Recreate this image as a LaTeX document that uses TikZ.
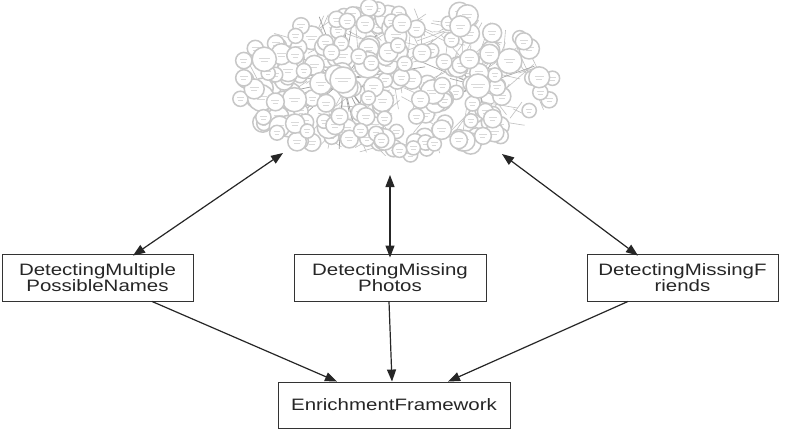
\documentclass[tikz,border=0pt]{standalone}
\usepackage{fontspec}
\newfontfamily\labfont[FakeStretch=1.24]{Liberation Sans}
\usetikzlibrary{arrows.meta,calc}
\tikzset{
  box/.style={draw=black!80, line width=0.9pt, fill=white, align=center,
    font=\labfont\fontsize{16.5}{16.5}\selectfont, text=black!85,
    minimum height=47pt, inner sep=0pt},
  link/.style={draw=black!85, line width=1.2pt, -{Triangle[length=12pt,width=9pt]}},
  dlink/.style={draw=black!85, line width=1.2pt,
    {Triangle[length=12pt,width=9pt]}-{Triangle[length=12pt,width=9pt]}},
  gnode/.style={draw=black!22, line width=1.5pt, fill=white},
  gedge/.style={draw=black!25, line width=0.6pt},
  gtext/.style={draw=black!15, line width=0.9pt},
}
\begin{document}
\begin{tikzpicture}[x=1pt,y=-1pt]
\useasboundingbox (0,0) rectangle (788,432);
\fill[white] (0,0) rectangle (788,432);

% ---- network cloud ----
\pgfmathsetseed{4711}
\begin{scope}
  \clip (395,82) ellipse (160 and 74);
  \foreach \i in {1,...,170}{
    \pgfmathsetmacro{\ang}{360*rnd}
    \pgfmathsetmacro{\rr}{sqrt(rnd)*0.92}
    \pgfmathsetmacro{\px}{395+160*\rr*cos(\ang)}
    \pgfmathsetmacro{\py}{82+74*\rr*sin(\ang)}
    \pgfmathsetmacro{\bng}{360*rnd}
    \pgfmathsetmacro{\len}{15+30*rnd}
    \draw[gedge] (\px,\py) -- ++({\len*cos(\bng)},{\len*sin(\bng)});
  }
  \foreach \i in {1,...,30}{
    \pgfmathsetmacro{\bng}{360*rnd}
    \pgfmathsetmacro{\len}{30+70*rnd}
    \draw[draw=black!38, line width=0.7pt] (343,80) -- ++({\len*cos(\bng)},{0.8*\len*sin(\bng)});
  }
  \foreach \i in {1,...,14}{
    \pgfmathsetmacro{\bng}{360*rnd}
    \pgfmathsetmacro{\len}{25+45*rnd}
    \draw[draw=black!35, line width=0.7pt] (478,86) -- ++({\len*cos(\bng)},{0.8*\len*sin(\bng)});
  }
\end{scope}
\foreach \i in {1,...,200}{
  \pgfmathsetmacro{\ang}{360*rnd}
  \pgfmathsetmacro{\rr}{sqrt(rnd)*0.95}
  \pgfmathsetmacro{\px}{395+168*\rr*cos(\ang)}
  \pgfmathsetmacro{\py}{82+80*\rr*sin(\ang)}
  \pgfmathsetmacro{\rad}{7+7*rnd*rnd}
  \draw[gnode] (\px,\py) circle (\rad);
  \draw[gtext] ({\px-0.45*\rad},{\py-1.2}) -- ({\px+0.45*\rad},{\py-1.2});
  \draw[gtext] ({\px-0.3*\rad},{\py+1.8}) -- ({\px+0.3*\rad},{\py+1.8});
}
\draw[gnode] (343,80) circle (13);
\draw[gtext] (335,78.8) -- (351,78.8);
\draw[gtext] (338,81.8) -- (348,81.8);
\draw[gnode] (478,86) circle (12);
\draw[gtext] (471,84.8) -- (485,84.8);
\draw[gtext] (473,87.8) -- (483,87.8);

% ---- boxes ----
\node[box, minimum width=191pt] (b1) at (97.5,277.5) {DetectingMultiple\\PossibleNames};
\node[box, minimum width=192pt] (b2) at (390,277.5) {DetectingMissing\\Photos};
\node[box, minimum width=191pt] (b3) at (682.5,277.5) {DetectingMissingF\\riends};
\node[box, minimum width=232pt, minimum height=46pt] (ef) at (394,405) {EnrichmentFramework};

% ---- cloud end points ----
\coordinate (c1) at (283,153);
\coordinate (c2) at (390,175);
\coordinate (c3) at (502,154);

% ---- connectors ----
\draw[dlink] ([xshift=35.5pt,yshift=-2pt]b1.north) -- (c1);
\draw[dlink] ([yshift=-4pt]b2.north) -- (c2);
\draw[dlink] ([xshift=-44.5pt,yshift=-2pt]b3.north) -- (c3);

\draw[link] ([xshift=54.5pt]b1.south) -- ([xshift=-57pt]ef.north);
\draw[link] ([xshift=-1pt]b2.south) -- ([xshift=-2pt]ef.north);
\draw[link] ([xshift=-54.5pt]b3.south) -- ([xshift=54pt]ef.north);
\end{tikzpicture}
\end{document}
